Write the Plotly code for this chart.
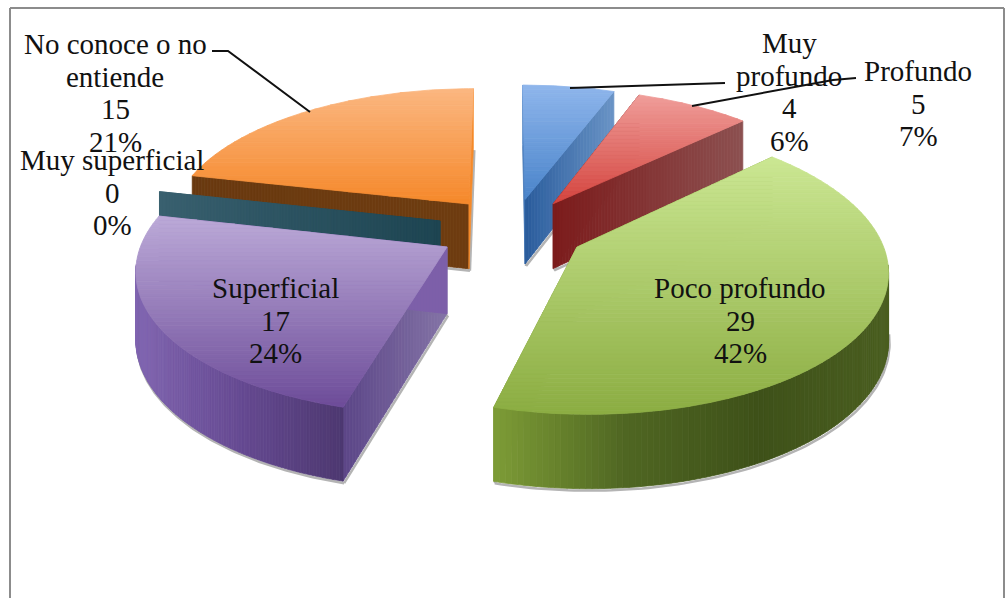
import math
import plotly.graph_objects as go

# ---- data (clockwise from 12 o'clock) ----
categories = ["Muy profundo", "Profundo", "Poco profundo", "Superficial", "Muy superficial", "No conoce o no entiende"]
values = [4, 5, 29, 17, 0, 15]
pct_labels = ["6%", "7%", "42%", "24%", "0%", "21%"]

# ---- styling ----
explode_x = [0.385, 0.298, 0.273, 0.22, 0.223, 0.197]
explode_y = [0.195, 0.19, 0.308, 0.306, 0.133, 0.20]
top_colors = [("#8fb6ec", "#4a84ca"), ("#f09e9a", "#d4453f"), ("#cbe793", "#8cad42"),
              ("#bcaad8", "#6d4c99"), ("#3a6478", "#3a6478"), ("#fbb781", "#f5882a")]
rim_stops = [["#2a5c9c", "#6a94c6"], ["#7c1c1c", "#8c5050"], ["#7d9c36", "#4f6622", "#3e5119", "#4a5e20"],
             ["#8065b0", "#664a92", "#4d3870"], ["#39606f", "#1e4552"], ["#6a3a10", "#6e3c10"]]
# colours of the two straight cut faces of each slice (start edge, end edge)
face_stops = [(["#4a7fc0", "#4a7fc0"], ["#2a5c9c", "#6a94c6"]),
              (["#7c1c1c", "#7c1c1c"], ["#7c1c1c", "#8c5050"]),
              (["#7d9c36", "#7d9c36"], ["#7d9c36", "#7d9c36"]),
              (["#5c4688", "#8474a6"], ["#7d5fa9", "#7d5fa9"]),
              (["#39606f", "#1e4552"], ["#39606f", "#1e4552"]),
              (["#6a3a10", "#6e3c10"], ["#f58a2a", "#f58a2a"])]
draw_order = [5, 4, 3, 0, 1, 2]
CX, CY = 505, 225
R, RY, K = 300, 137, 0.14


def depth_at(y):
    return 60 + (y - 100) / 307 * 14


def hexrgb(h):
    return tuple(int(h[i:i + 2], 16) for i in (1, 3, 5))


def grad(stops, t):
    t = max(0.0, min(1.0, t)) * (len(stops) - 1)
    j = min(int(t), len(stops) - 2)
    f = t - j
    a, b = hexrgb(stops[j]), hexrgb(stops[j + 1])
    return "#%02x%02x%02x" % tuple(round(x + (y - x) * f) for x, y in zip(a, b))


def proj(u, v):
    s = 1 / (1 + K * v)
    return CX + R * u * s, CY - RY * v * s


def clip(poly, axis, lo, hi):
    """Clip a convex polygon to a band along one axis."""
    def cut(pts, keep, val):
        out = []
        for n in range(len(pts)):
            p, q = pts[n], pts[(n + 1) % len(pts)]
            kp, kq = keep(p[axis]), keep(q[axis])
            if kp:
                out.append(p)
            if kp != kq:
                f = (val - p[axis]) / (q[axis] - p[axis])
                out.append((p[0] + (q[0] - p[0]) * f, p[1] + (q[1] - p[1]) * f))
        return out
    res = cut(poly, lambda c: c >= lo, lo)
    if res:
        res = cut(res, lambda c: c <= hi, hi)
    return res


fig = go.Figure()


def fill(pts, col):
    fig.add_trace(go.Scatter(x=[p[0] for p in pts] + [pts[0][0]], y=[p[1] for p in pts] + [pts[0][1]],
                             mode="lines", fill="toself", fillcolor=col,
                             line=dict(color=col, width=0.8), hoverinfo="skip", showlegend=False))


def banded(poly, axis, stops, step):
    cs = [p[axis] for p in poly]
    lo, hi = min(cs), max(cs)
    if hi - lo < 1e-6:
        return
    n = max(1, int((hi - lo) / step))
    for k in range(n):
        a = lo + (hi - lo) * k / n
        b = lo + (hi - lo) * (k + 1) / n
        part = clip(poly, axis, a, b)
        if len(part) >= 3:
            fill(part, grad(stops, (k + 0.5) / n))


def drop(p):
    return (p[0], p[1] + depth_at(p[1]))


def shadow(pts):
    fig.add_trace(go.Scatter(x=[p[0] + 1 for p in pts], y=[p[1] + 2 for p in pts], mode="lines",
                             line=dict(color="#b4b4b4", width=2.5), hoverinfo="skip", showlegend=False))


total = sum(values)
starts, acc = [], 0
for v in values:
    starts.append(acc / total * 2 * math.pi)
    acc += v

for i in draw_order:
    a0 = starts[i]
    a1 = a0 + values[i] / total * 2 * math.pi
    mid = (a0 + a1) / 2
    eu = explode_x[i] * math.sin(mid)
    ev = explode_y[i] * math.cos(mid)
    apex = proj(eu, ev)

    def rim(th):
        return proj(eu + math.sin(th), ev + math.cos(th))

    N = 150
    front = [a0 + (a1 - a0) * k / N for k in range(N + 1)]
    front = [t for t in front if math.cos(t) < -K + 0.02]

    # soft shadow under the visible walls
    if front:
        shadow([drop(rim(t)) for t in front])
    for th in (a0, a1):
        shadow([drop(apex), drop(rim(th))])

    # cut faces
    for th, stops in zip((a0, a1), face_stops[i]):
        r = rim(th)
        banded([apex, r, drop(r), drop(apex)], 0, stops, 3)

    # outer wall, shaded along x
    if len(front) > 1:
        xs = [rim(t)[0] for t in front]
        lo, hi = min(xs), max(xs)
        for t0, t1 in zip(front[:-1], front[1:]):
            p, q = rim(t0), rim(t1)
            col = grad(rim_stops[i], ((p[0] + q[0]) / 2 - lo) / (hi - lo))
            fill([p, q, drop(q), drop(p)], col)

    # top surface, shaded from back to front
    if values[i] > 0:
        arc = [rim(a0 + (a1 - a0) * k / 70) for k in range(71)]
        banded([apex] + arc, 1, top_colors[i], 4)

# leader lines
leaders = [([212, 228, 310], [51, 51, 112]),
           ([570, 725], [88, 83]),
           ([692, 833, 856], [106, 80, 78])]
for lx, ly in leaders:
    fig.add_trace(go.Scatter(x=lx, y=ly, mode="lines", line=dict(color="#111111", width=2),
                             hoverinfo="skip", showlegend=False))

# labels: centre x, y of the first line, name lines
label_pos = {
    "Muy profundo": (789, 43, ["Muy", "profundo"]),
    "Profundo": (918, 71, ["Profundo"]),
    "Poco profundo": (740, 288, ["Poco profundo"]),
    "Muy superficial": (112, 160, ["Muy superficial"]),
    "Superficial": (275, 288, ["Superficial"]),
    "No conoce o no entiende": (115, 44, ["No conoce o no", "entiende"]),
}
annotations = []
for cat, val, pct in zip(categories, values, pct_labels):
    lx, ly, names = label_pos[cat]
    for n, line in enumerate(names + [str(val), pct]):
        annotations.append(dict(x=lx, y=ly + n * 32.5, text=line, showarrow=False,
                                xref="x", yref="y", xanchor="center", yanchor="middle",
                                font=dict(family="Liberation Serif", size=29, color="#111111")))

frame = [dict(type="line", xref="x", yref="y", x0=x0, y0=y0, x1=x1, y1=y1,
              line=dict(color="#8c8c8c", width=2))
         for x0, y0, x1, y1 in [(10, 8, 1004, 8), (10, 8, 10, 598), (1004, 8, 1004, 598)]]

fig.update_layout(
    width=1006, height=598, margin=dict(l=0, r=0, t=0, b=0),
    paper_bgcolor="white", plot_bgcolor="white", showlegend=False,
    xaxis=dict(range=[0, 1006], visible=False, fixedrange=True),
    yaxis=dict(range=[598, 0], visible=False, fixedrange=True),
    annotations=annotations, shapes=frame,
)
fig.write_html("out.html", config=dict(displayModeBar=False),
               post_script="document.body.style.margin='0';document.body.style.overflow='hidden';")
